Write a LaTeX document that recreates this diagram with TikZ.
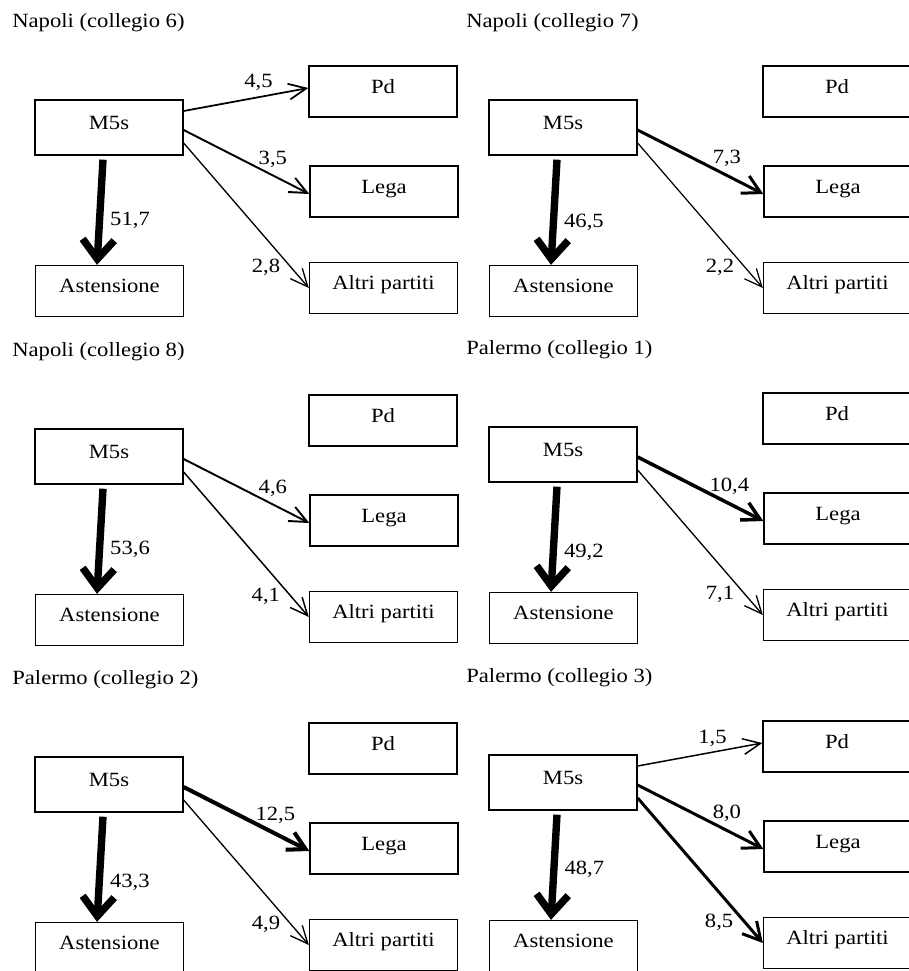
\documentclass[tikz,border=0pt]{standalone}
\usepackage{fontspec}
\setmainfont{Liberation Serif}[FakeStretch=1.12]
\usepackage{tikz}
\usetikzlibrary{arrows.meta}

% riquadri di un collegio: #1 prefisso dei nomi, #2 titolo
\newcommand{\collegio}[2]{%
  \node[title] (#1-t) at (0.24,-0.46) {#2};
  \node[box, minimum height=1.1cm] (#1-m5s) at (2.18,-2.55) {M5s};
  \node[box] (#1-pd) at (7.66,-1.83) {Pd};
  \node[box] (#1-lega) at (7.68,-3.83) {Lega};
  \node[box] (#1-altri) at (7.67,-5.76) {Altri partiti};
  \node[box] (#1-ast) at (2.19,-5.82) {Astensione};
}

\begin{document}
\begin{tikzpicture}[
  every node/.style={font=\fontsize{11.5}{13}\selectfont},
  box/.style={draw, line width=0.75pt, minimum width=2.96cm, minimum height=1.02cm, text height=8pt, text depth=6pt, inner sep=0pt},
  title/.style={anchor=west, inner sep=0pt},
  arrow/.style={-{Straight Barb[length=10pt, width=9pt]}, line width=0.75pt},
  arrow bold/.style={-{Straight Barb[length=10pt, width=11pt]}, line width=1.8pt},
  arrow heavy/.style={-{Straight Barb[length=11pt, width=18pt]}, line width=4.2pt},
  val/.style={inner sep=1pt}
]

  \clip (0,0) rectangle (18.18,-19.42);

  % Napoli (collegio 6)
  \collegio{n6}{Napoli (collegio 6)}
  \draw[arrow, line width=1pt] ([yshift=0.33cm]n6-m5s.east) -- ([yshift=0.07cm]n6-pd.west) node[val, pos=0.6, above=2pt] {4,5};
  \draw[arrow, line width=1.1pt] ([yshift=-0.05cm]n6-m5s.east) -- ([yshift=-0.05cm]n6-lega.west) node[val, pos=0.71, above=3pt] {3,5};
  \draw[arrow] ([yshift=-0.31cm]n6-m5s.east) -- (n6-altri.west) node[val, pos=0.86, left=5pt] {2,8};
  \draw[arrow heavy] ([xshift=-0.12cm, yshift=-0.08cm]n6-m5s.south) -- ([xshift=-0.25cm]n6-ast.north) node[val, pos=0.58, right=3pt] {51,7};

  % Napoli (collegio 7)
  \begin{scope}[shift={(9.08,0)}]
  \collegio{n7}{Napoli (collegio 7)}
  \draw[arrow bold, line width=1.7pt] ([yshift=-0.05cm]n7-m5s.east) -- ([yshift=-0.05cm]n7-lega.west) node[val, pos=0.71, above=3pt] {7,3};
  \draw[arrow, line width=0.7pt] ([yshift=-0.31cm]n7-m5s.east) -- (n7-altri.west) node[val, pos=0.86, left=5pt] {2,2};
  \draw[arrow heavy] ([xshift=-0.12cm, yshift=-0.08cm]n7-m5s.south) -- ([xshift=-0.25cm]n7-ast.north) node[val, pos=0.6, right=3pt] {46,5};
  \end{scope}

  % Napoli (collegio 8)
  \begin{scope}[shift={(0,-6.58)}]
  \collegio{n8}{Napoli (collegio 8)}
  \draw[arrow, line width=1.1pt] ([yshift=-0.05cm]n8-m5s.east) -- ([yshift=-0.05cm]n8-lega.west) node[val, pos=0.71, above=3pt] {4,6};
  \draw[arrow, line width=0.85pt] ([yshift=-0.31cm]n8-m5s.east) -- (n8-altri.west) node[val, pos=0.86, left=5pt] {4,1};
  \draw[arrow heavy] ([xshift=-0.12cm, yshift=-0.08cm]n8-m5s.south) -- ([xshift=-0.25cm]n8-ast.north) node[val, pos=0.58, right=3pt] {53,6};
  \end{scope}

  % Palermo (collegio 1)
  \begin{scope}[shift={(9.08,-6.54)}]
  \collegio{p1}{Palermo (collegio 1)}
  \draw[arrow bold, line width=2pt] ([yshift=-0.05cm]p1-m5s.east) -- ([yshift=-0.05cm]p1-lega.west) node[val, pos=0.73, above=3pt] {10,4};
  \draw[arrow] ([yshift=-0.31cm]p1-m5s.east) -- (p1-altri.west) node[val, pos=0.86, left=5pt] {7,1};
  \draw[arrow heavy] ([xshift=-0.12cm, yshift=-0.08cm]p1-m5s.south) -- ([xshift=-0.25cm]p1-ast.north) node[val, pos=0.62, right=3pt] {49,2};
  \end{scope}

  % Palermo (collegio 2)
  \begin{scope}[shift={(0,-13.14)}]
  \collegio{p2}{Palermo (collegio 2)}
  \draw[arrow bold, line width=2.3pt] ([yshift=-0.05cm]p2-m5s.east) -- ([yshift=-0.05cm]p2-lega.west) node[val, pos=0.73, above=3.5pt] {12,5};
  \draw[arrow] ([yshift=-0.31cm]p2-m5s.east) -- (p2-altri.west) node[val, pos=0.86, left=5pt] {4,9};
  \draw[arrow heavy] ([xshift=-0.12cm, yshift=-0.08cm]p2-m5s.south) -- ([xshift=-0.25cm]p2-ast.north) node[val, pos=0.62, right=3pt] {43,3};
  \end{scope}

  % Palermo (collegio 3)
  \begin{scope}[shift={(9.08,-13.10)}]
  \collegio{p3}{Palermo (collegio 3)}
  \draw[arrow, line width=0.85pt] ([yshift=0.33cm]p3-m5s.east) -- ([yshift=0.07cm]p3-pd.west) node[val, pos=0.6, above=2pt] {1,5};
  \draw[arrow bold, line width=1.7pt] ([yshift=-0.05cm]p3-m5s.east) -- ([yshift=-0.05cm]p3-lega.west) node[val, pos=0.71, above=3pt] {8,0};
  \draw[arrow bold, line width=1.7pt] ([yshift=-0.31cm]p3-m5s.east) -- (p3-altri.west) node[val, pos=0.86, left=5pt] {8,5};
  \draw[arrow heavy] ([xshift=-0.12cm, yshift=-0.08cm]p3-m5s.south) -- ([xshift=-0.25cm]p3-ast.north) node[val, pos=0.52, right=3pt] {48,7};
  \end{scope}

\end{tikzpicture}
\end{document}
